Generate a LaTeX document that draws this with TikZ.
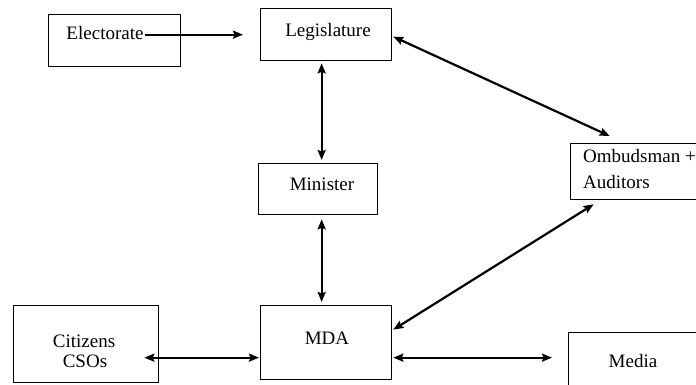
\documentclass[tikz,border=0pt]{standalone}
\usepackage{fontspec}
\setmainfont{Liberation Serif}
\usetikzlibrary{arrows.meta}
\begin{document}
\begin{tikzpicture}[x=1pt,y=-1pt,
  box/.style={draw,line width=1.3pt,inner sep=0pt,anchor=north west},
  lbl/.style={font=\fontsize{19}{21}\selectfont,inner sep=1pt},
  arr/.style={line width=2.2pt,-{Stealth[length=10pt,width=8pt,inset=1.5pt]}},
  dbl/.style={line width=2.2pt,{Stealth[length=10pt,width=8pt,inset=1.5pt]}-{Stealth[length=10pt,width=8pt,inset=1.5pt]}}]
\useasboundingbox (0,0) rectangle (696,385);
% boxes
\node[box,minimum width=132pt,minimum height=52pt] (elec) at (48,14) {};
\node[box,minimum width=131pt,minimum height=52pt] (leg) at (260,8) {};
\node[box,minimum width=130pt,minimum height=56pt] (omb) at (570,143) {};
\node[box,minimum width=119pt,minimum height=51pt] (min) at (258,163) {};
\node[box,minimum width=131pt,minimum height=74pt] (mda) at (260,305) {};
\node[box,minimum width=145pt,minimum height=77pt] (cit) at (13,305) {};
\node[box,minimum width=132pt,minimum height=70pt] (media) at (568,332) {};
% labels
\node[lbl] (elecT) at (105,33) {Electorate};
\node[lbl] (legT) at (328,32) {Legislature};
\node[lbl,anchor=west] (ombT1) at (582,156) {Ombudsman +};
\node[lbl,anchor=west] (ombT2) at (582,182) {Auditors};
\node[lbl] (minT) at (322,184) {Minister};
\node[lbl] (mdaT) at (327,338) {MDA};
\node[lbl] (citT1) at (84,341) {Citizens};
\node[lbl] (citT2) at (85,361) {CSOs};
\node[lbl] (mediaT) at (633,361) {Media};
% connectors
\draw[arr,shorten >=17pt] (elecT.east |- leg.west) -- (leg.west);
\draw[dbl] ([xshift=-4.5pt,yshift=-2pt]leg.south) -- ([xshift=3.5pt,yshift=3pt]min.north);
\draw[dbl] ([xshift=3.5pt,yshift=-4pt]min.south) -- ([xshift=-4.5pt,yshift=3pt]mda.north);
\draw[dbl] ([xshift=1pt,yshift=-2pt]leg.east) -- ([xshift=-26pt,yshift=7pt]omb.north);
\draw[dbl] ([xshift=1pt,yshift=13pt]mda.east) -- ([xshift=-42pt,yshift=-4pt]omb.south);
\draw[dbl] ([xshift=-15pt,yshift=-13.5pt]cit.east) -- ([xshift=-1pt,yshift=-15pt]mda.west);
\draw[dbl] ([xshift=1pt,yshift=-15pt]mda.east) -- ([xshift=-16pt,yshift=10pt]media.west);
\end{tikzpicture}
\end{document}
